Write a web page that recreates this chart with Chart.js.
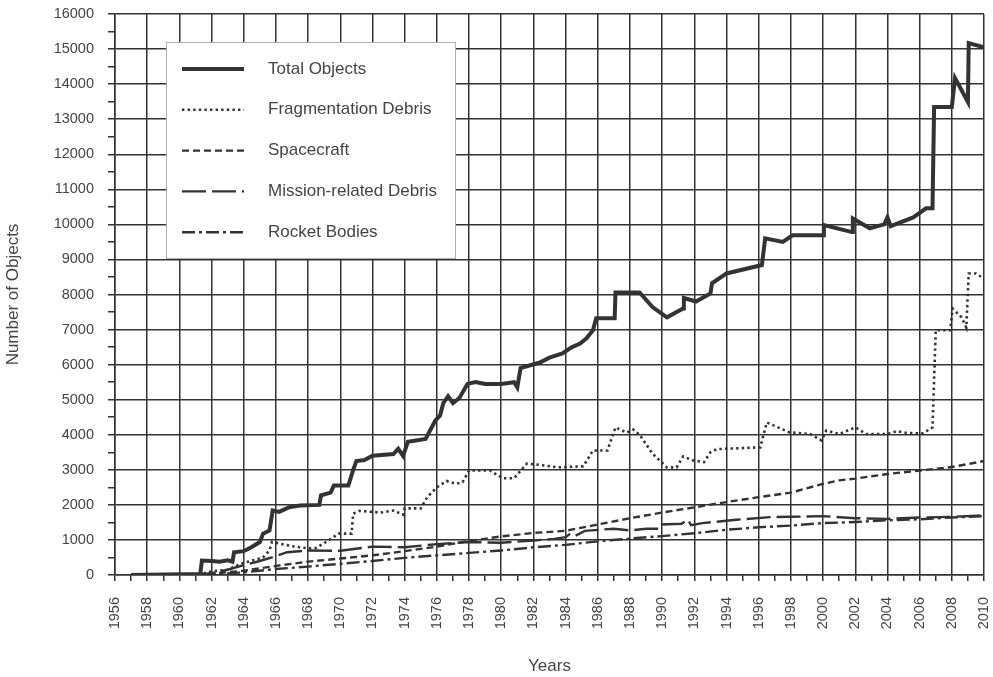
<!DOCTYPE html>
<html>
<head>
<meta charset="utf-8">
<script src="https://cdn.jsdelivr.net/npm/chart.js@4.4.0/dist/chart.umd.min.js"></script>
<style>
    html, body { margin: 0; padding: 0; background: #fff; }
    #grafico { display: block; }
</style>
</head>
<body>
<canvas id="grafico" width="993" height="677"></canvas>
<script>
// eixos
const anoInicio = 1956;
const anoFim = 2010;
const maxObjetos = 16000;

// Total Objects
const totalAnos = [1957, 1961.3, 1961.4, 1962, 1962.5, 1963, 1963.3, 1963.4, 1964, 1964.5, 1965, 1965.2, 1965.6, 1965.8,
    1966.2, 1966.8, 1967.5, 1968.7, 1968.8, 1969.4, 1969.6, 1970.5, 1970.8, 1971, 1971.5, 1972, 1973.3, 1973.6,
    1973.9, 1974.2, 1975.3, 1975.9, 1976.2, 1976.4, 1976.7, 1977, 1977.4, 1977.9, 1978.4, 1979, 1980, 1980.8,
    1981, 1981.2, 1982.4, 1983, 1983.8, 1984.4, 1984.9, 1985.3, 1985.7, 1985.9, 1987.05, 1987.1, 1988.6, 1989.4,
    1990.3, 1991.3, 1991.35, 1992.1, 1993, 1993.1, 1994, 1996.2, 1996.4, 1997.5, 1998.1, 2000, 2000.05, 2001.8,
    2001.85, 2002.9, 2003.8, 2004, 2004.2, 2005.6, 2006.4, 2006.8, 2006.9, 2008, 2008.2, 2009, 2009.05, 2010];
const totalValores = [0, 30, 410, 400, 380, 420, 380, 650, 680, 800, 940, 1180, 1270, 1840,
    1800, 1930, 1980, 2000, 2270, 2350, 2550, 2550, 3000, 3250, 3280, 3400, 3450, 3600,
    3400, 3800, 3880, 4400, 4550, 4900, 5100, 4900, 5050, 5450, 5500, 5450, 5450, 5500,
    5350, 5900, 6060, 6200, 6320, 6500, 6600, 6750, 6980, 7320, 7320, 8060, 8060, 7640,
    7350, 7600, 7900, 7800, 8030, 8320, 8600, 8840, 9600, 9500, 9690, 9690, 9980, 9780,
    10170, 9890, 10000, 10200, 9950, 10200, 10460, 10460, 13350, 13350, 14170, 13490, 15170, 15050];

// Fragmentation Debris
const fragAnos = [1957, 1961, 1961.5, 1962, 1963, 1963.9, 1965.2, 1965.6, 1965.75, 1966.2, 1967, 1968, 1968.5,
    1969.1, 1969.9, 1970.7, 1970.8, 1971.2, 1972.5, 1973.3, 1973.9, 1974, 1975, 1975.4, 1976, 1976.6, 1977.2,
    1977.6, 1978, 1979.3, 1980.1, 1980.8, 1981.6, 1982.4, 1983.5, 1985.1, 1985.7, 1986.6, 1987.1, 1987.8,
    1988.2, 1988.6, 1989.4, 1990.3, 1990.9, 1991.3, 1991.9, 1992.6, 1993, 1993.4, 1996.1, 1996.5, 1997.9,
    1999.2, 1999.9, 2000.2, 2001, 2002, 2002.7, 2004, 2004.6, 2005.2, 2006.2, 2006.8, 2007, 2007.9, 2008.05,
    2008.6, 2008.9, 2009.05, 2009.5, 2010];
const fragValores = [0, 0, 50, 100, 150, 330, 500, 700, 940, 900, 820, 760, 770,
    940, 1180, 1180, 1750, 1830, 1780, 1840, 1720, 1900, 1900, 2220, 2500, 2680, 2600,
    2650, 2980, 2980, 2760, 2760, 3180, 3140, 3070, 3100, 3550, 3550, 4210, 4060,
    4150, 4000, 3460, 3070, 3070, 3380, 3270, 3220, 3500, 3590, 3640, 4350, 4070,
    4020, 3840, 4120, 4020, 4210, 4020, 4020, 4100, 4050, 4040, 4210, 6980, 6980, 7600,
    7350, 7060, 8600, 8600, 8450];

// Spacecraft
const naveAnos = [1957, 1960, 1962, 1964, 1966, 1968, 1970, 1972, 1974, 1976, 1978, 1980, 1982, 1984, 1986,
    1988, 1990, 1992, 1994, 1996, 1998, 2000, 2001, 2002, 2004, 2006, 2008, 2010];
const naveValores = [0, 20, 40, 120, 260, 380, 470, 560, 680, 810, 970, 1100, 1200, 1260, 1440,
    1620, 1780, 1930, 2080, 2220, 2350, 2600, 2700, 2750, 2880, 2980, 3080, 3250];

// Mission-related Debris
const missaoAnos = [1957, 1961, 1962, 1963, 1964, 1965, 1965.8, 1966.7, 1968, 1970, 1972, 1974, 1976, 1978,
    1980, 1982, 1983.3, 1984, 1984.3, 1984.6, 1985.2, 1987, 1988, 1989, 1989.8, 1989.9, 1991.2, 1991.6, 1991.8,
    1992.5, 1994.6, 1996.7, 1998, 2000, 2002, 2004, 2006, 2008, 2010];
const missaoValores = [0, 0, 50, 150, 280, 400, 510, 650, 700, 690, 810, 790, 880, 940,
    920, 985, 1030, 1080, 1180, 1120, 1260, 1320, 1270, 1320, 1320, 1440, 1460, 1575, 1420,
    1480, 1575, 1650, 1660, 1680, 1620, 1600, 1640, 1660, 1700];

// Rocket Bodies
const foguetesAnos = [1957, 1960, 1962, 1964, 1966, 1968, 1970, 1972, 1974, 1976, 1978, 1980, 1982, 1984,
    1986, 1988, 1990, 1992, 1994, 1996, 1998, 2000, 2002, 2004, 2006, 2008, 2010];
const foguetesValores = [0, 10, 20, 75, 170, 240, 320, 400, 490, 560, 630, 700, 790, 860,
    960, 1040, 1110, 1190, 1290, 1360, 1410, 1480, 1510, 1560, 1590, 1640, 1680];

const corLinha = "#333333";
const corTexto = "#444444";
const fonte = "'Liberation Sans', Arial, sans-serif";

function juntarPontos(anos, valores) {
    return anos.map(function (ano, i) {
        return { x: ano, y: valores[i] };
    });
}

function serie(nome, anos, valores, largura, tracejado) {
    return {
        label: nome,
        data: juntarPontos(anos, valores),
        borderColor: corLinha,
        borderWidth: largura,
        borderDash: tracejado,
        pointRadius: 0,
        tension: 0,
        fill: false
    };
}

// tira o espaco extra que o Chart.js reserva para os rotulos das pontas
function ajustarEspaco(scale, tamanho) {
    if (scale.isHorizontal()) {
        scale.height = tamanho;
    } else {
        scale.width = tamanho;
    }
    scale.paddingTop = 0;
    scale.paddingBottom = 0;
    scale.paddingLeft = 0;
    scale.paddingRight = 0;
}

// legenda desenhada dentro do grafico, como na figura
const legendaCaixa = {
    id: "legendaCaixa",
    afterDatasetsDraw(chart) {
        const ctx = chart.ctx;
        ctx.save();
        ctx.fillStyle = "#ffffff";
        ctx.fillRect(166, 42, 289, 216);
        ctx.strokeStyle = "#b0b0b0";
        ctx.lineWidth = 1;
        ctx.strokeRect(166.5, 42.5, 289, 216);

        chart.data.datasets.forEach(function (ds, i) {
            let y = 69 + i * 40.8;
            ctx.beginPath();
            ctx.strokeStyle = ds.borderColor;
            ctx.lineWidth = ds.borderWidth;
            ctx.setLineDash(ds.borderDash || []);
            ctx.moveTo(182, y);
            ctx.lineTo(244, y);
            ctx.stroke();
            ctx.setLineDash([]);

            ctx.fillStyle = corTexto;
            ctx.font = "17px " + fonte;
            ctx.textBaseline = "middle";
            ctx.fillText(ds.label, 268, y);
        });
        ctx.restore();
    }
};

Chart.defaults.font.family = fonte;
Chart.defaults.color = corTexto;

let grafico = new Chart(document.getElementById("grafico"), {
    type: "line",
    data: {
        datasets: [
            serie("Total Objects", totalAnos, totalValores, 4, []),
            serie("Fragmentation Debris", fragAnos, fragValores, 2.6, [2.4, 3.2]),
            serie("Spacecraft", naveAnos, naveValores, 2.4, [7, 4]),
            serie("Mission-related Debris", missaoAnos, missaoValores, 2.4, [24, 6]),
            serie("Rocket Bodies", foguetesAnos, foguetesValores, 2.4, [13, 4, 3, 4])
        ]
    },
    options: {
        responsive: false,
        animation: false,
        devicePixelRatio: 1,
        layout: {
            padding: { top: 14, right: 9, left: 0, bottom: 0 }
        },
        plugins: {
            legend: { display: false },
            tooltip: { enabled: false }
        },
        scales: {
            x: {
                type: "linear",
                min: anoInicio,
                max: anoFim,
                afterFit: function (scale) { ajustarEspaco(scale, 102); },
                border: { display: true, color: corLinha, width: 1.5 },
                grid: {
                    color: function (c) {
                        return c.tick && c.tick.value % 2 === 0 ? corLinha : "rgba(0,0,0,0)";
                    },
                    tickColor: corLinha,
                    lineWidth: 1.5,
                    tickLength: 6
                },
                ticks: {
                    stepSize: 1,
                    autoSkip: false,
                    minRotation: 90,
                    maxRotation: 90,
                    padding: 16,
                    font: { size: 14.5 },
                    callback: function (valor) {
                        return valor % 2 === 0 ? String(valor) : "";
                    }
                },
                title: {
                    display: true,
                    text: "Years",
                    font: { size: 17 },
                    padding: { top: 0, bottom: 0 }
                }
            },
            y: {
                min: 0,
                max: maxObjetos,
                afterFit: function (scale) { ajustarEspaco(scale, 115); },
                border: { display: true, color: corLinha, width: 1.5 },
                grid: {
                    color: function (c) {
                        return c.tick && c.tick.value % 1000 === 0 ? corLinha : "rgba(0,0,0,0)";
                    },
                    tickColor: corLinha,
                    lineWidth: 1.5,
                    tickLength: 7
                },
                ticks: {
                    stepSize: 500,
                    autoSkip: false,
                    padding: 14,
                    font: { size: 14.5 },
                    callback: function (valor) {
                        return valor % 1000 === 0 ? String(valor) : "";
                    }
                },
                title: {
                    display: true,
                    text: "Number of Objects",
                    font: { size: 17 },
                    padding: { top: 3, bottom: 0 }
                }
            }
        }
    },
    plugins: [legendaCaixa]
});
</script>
</body>
</html>
